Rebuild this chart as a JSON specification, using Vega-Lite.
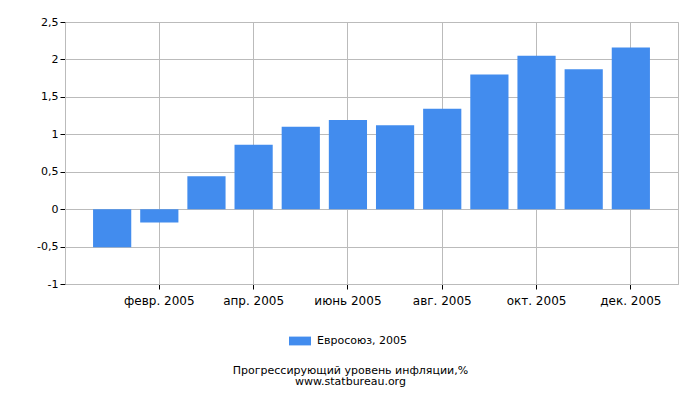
{
  "$schema": "https://vega.github.io/schema/vega-lite/v6.json",
  "autosize": "none",
  "width": 613,
  "height": 262,
  "padding": {"left": 65, "top": 22, "right": 22, "bottom": 116},
  "background": "white",
  "config": {
    "font": "DejaVu Sans",
    "view": {"stroke": "#bbbbbb", "strokeWidth": 1}
  },
  "title": {
    "text": ["Прогрессирующий уровень инфляции,%", "www.statbureau.org"],
    "orient": "bottom",
    "anchor": "middle",
    "frame": "group",
    "offset": 19,
    "dx": -21,
    "fontSize": 11,
    "fontWeight": "normal",
    "color": "#000000",
    "lineHeight": 11
  },
  "data": {
    "values": [
      {"month": "янв. 2005", "value": -0.51, "series": "Евросоюз, 2005"},
      {"month": "февр. 2005", "value": -0.18, "series": "Евросоюз, 2005"},
      {"month": "март 2005", "value": 0.44, "series": "Евросоюз, 2005"},
      {"month": "апр. 2005", "value": 0.86, "series": "Евросоюз, 2005"},
      {"month": "май 2005", "value": 1.1, "series": "Евросоюз, 2005"},
      {"month": "июнь 2005", "value": 1.19, "series": "Евросоюз, 2005"},
      {"month": "июль 2005", "value": 1.12, "series": "Евросоюз, 2005"},
      {"month": "авг. 2005", "value": 1.34, "series": "Евросоюз, 2005"},
      {"month": "сент. 2005", "value": 1.8, "series": "Евросоюз, 2005"},
      {"month": "окт. 2005", "value": 2.05, "series": "Евросоюз, 2005"},
      {"month": "нояб. 2005", "value": 1.87, "series": "Евросоюз, 2005"},
      {"month": "дек. 2005", "value": 2.16, "series": "Евросоюз, 2005"}
    ]
  },
  "mark": {"type": "bar"},
  "encoding": {
    "x": {
      "field": "month",
      "type": "ordinal",
      "sort": null,
      "scale": {"paddingInner": 0.19, "paddingOuter": 0.595},
      "axis": {
        "title": null,
        "values": ["февр. 2005", "апр. 2005", "июнь 2005", "авг. 2005", "окт. 2005", "дек. 2005"],
        "bandPosition": 0.5,
        "labelAngle": 0,
        "labelFontSize": 12,
        "labelColor": "#000000",
        "labelPadding": 6,
        "tickColor": "#000000",
        "tickSize": 5,
        "domainColor": "#bbbbbb",
        "grid": true,
        "gridColor": "#bbbbbb"
      }
    },
    "y": {
      "field": "value",
      "type": "quantitative",
      "scale": {"domain": [-1, 2.5], "nice": false},
      "axis": {
        "title": null,
        "values": [-1, -0.5, 0, 0.5, 1, 1.5, 2, 2.5],
        "labelExpr": "replace(toString(datum.value), '.', ',')",
        "labelFontSize": 11,
        "labelColor": "#000000",
        "labelPadding": 2,
        "tickColor": "#000000",
        "tickSize": 5,
        "domainColor": "#bbbbbb",
        "gridColor": "#bbbbbb"
      }
    },
    "color": {
      "field": "series",
      "type": "nominal",
      "scale": {"range": ["#428cee"]},
      "legend": {
        "title": null,
        "orient": "none",
        "legendX": 224,
        "legendY": 308,
        "symbolType": "M-1,-0.4H1V0.4H-1Z",
        "symbolSize": 484,
        "symbolStrokeWidth": 0,
        "labelFontSize": 11,
        "labelOffset": 6,
        "labelColor": "#000000"
      }
    }
  }
}
